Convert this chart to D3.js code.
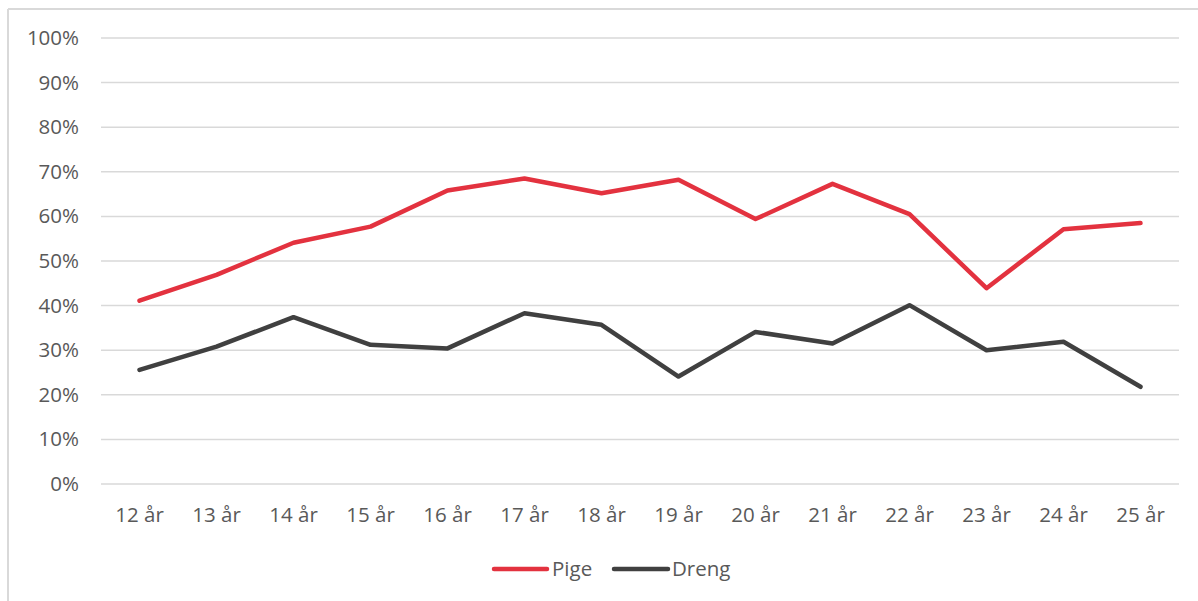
<!DOCTYPE html>
<html>
<head>
<meta charset="utf-8">
<script src="https://cdn.jsdelivr.net/npm/d3@7/dist/d3.min.js"></script>
<style>
  html, body { margin: 0; padding: 0; background: #fff; }
  svg { display: block; }
  text { font-family: "Open Sans", "Noto Sans", sans-serif; fill: #595959; }
</style>
</head>
<body>
<svg id="chart" width="1198" height="601"></svg>
<script>
// Age groups and share per group
const categories = ["12 år", "13 år", "14 år", "15 år", "16 år", "17 år", "18 år",
                    "19 år", "20 år", "21 år", "22 år", "23 år", "24 år", "25 år"];
const pige  = [41.1, 46.9, 54.1, 57.7, 65.8, 68.5, 65.2, 68.2, 59.4, 67.3, 60.5, 43.9, 57.1, 58.5];
const dreng = [25.6, 30.8, 37.4, 31.2, 30.4, 38.3, 35.7, 24.1, 34.1, 31.5, 40.1, 30.0, 31.9, 21.8];
const yTicks = [0, 10, 20, 30, 40, 50, 60, 70, 80, 90, 100];
const seriesNames = ["Pige", "Dreng"];
const seriesColors = ["#E3323F", "#404040"];

const svg = d3.select("#chart");
const W = 1198, H = 601;
const plot = { left: 101, right: 1179, top: 38, bottom: 484 };
const fontSize = "20.5px";

// chart frame (left and top edges)
svg.append("line").attr("x1", 8).attr("x2", 8).attr("y1", 9).attr("y2", H)
  .attr("stroke", "#d9d9d9").attr("stroke-width", 2);
svg.append("line").attr("x1", 8).attr("x2", W).attr("y1", 9).attr("y2", 9)
  .attr("stroke", "#d9d9d9").attr("stroke-width", 2);

const x = d3.scaleBand().domain(categories).range([plot.left, plot.right]);
const y = d3.scaleLinear().domain([0, 100]).range([plot.bottom, plot.top]);

// horizontal gridlines
svg.append("g").selectAll("line").data(yTicks).join("line")
  .attr("x1", plot.left).attr("x2", plot.right)
  .attr("y1", d => y(d)).attr("y2", d => y(d))
  .attr("stroke", "#d9d9d9").attr("stroke-width", 1.5);

// y axis labels
const yAxis = d3.axisLeft(y).tickValues(yTicks).tickFormat(d => d + "%").tickSize(0).tickPadding(22);
const gy = svg.append("g").attr("transform", `translate(${plot.left},0)`).call(yAxis);
gy.select(".domain").remove();
gy.selectAll("text").style("font-size", fontSize).attr("fill", "#595959")
  .style("font-family", "'Open Sans', sans-serif");

// x axis labels
const xAxis = d3.axisBottom(x).tickSize(0).tickPadding(23);
const gx = svg.append("g").attr("transform", `translate(0,${plot.bottom})`).call(xAxis);
gx.select(".domain").remove();
gx.selectAll("text").style("font-size", fontSize).attr("fill", "#595959")
  .style("font-family", "'Open Sans', sans-serif");

// series lines
const line = d3.line()
  .x((d, i) => x(categories[i]) + x.bandwidth() / 2)
  .y(d => y(d));

[pige, dreng].forEach((vals, k) => {
  svg.append("path").datum(vals)
    .attr("d", line)
    .attr("fill", "none")
    .attr("stroke", seriesColors[k])
    .attr("stroke-width", 4.5)
    .attr("stroke-linejoin", "round")
    .attr("stroke-linecap", "round");
});

// legend
const legendItems = [{ x1: 494, x2: 547, tx: 552 }, { x1: 614, x2: 668, tx: 672 }];
const legendY = 569;
legendItems.forEach((it, k) => {
  svg.append("line").attr("x1", it.x1).attr("x2", it.x2)
    .attr("y1", legendY).attr("y2", legendY)
    .attr("stroke", seriesColors[k]).attr("stroke-width", 4.5)
    .attr("stroke-linecap", "round");
  svg.append("text").attr("x", it.tx).attr("y", legendY)
    .attr("dy", "0.35em").style("font-size", fontSize)
    .text(seriesNames[k]);
});
</script>
</body>
</html>
